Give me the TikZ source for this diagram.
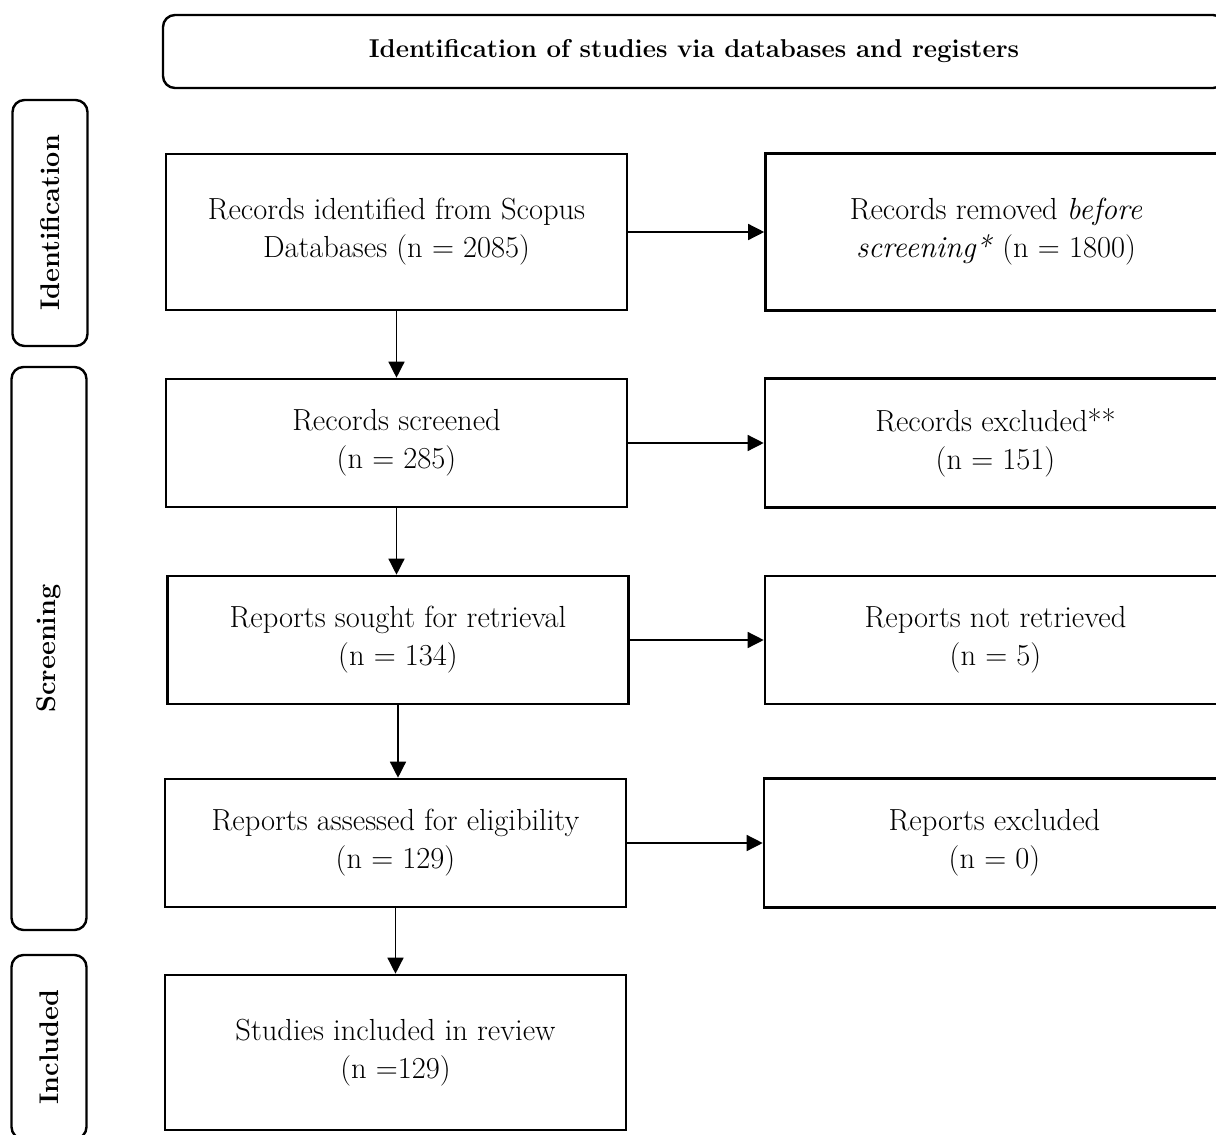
\documentclass[tikz,border=0pt]{standalone}
\usetikzlibrary{arrows.meta}
\begin{document}
\begin{tikzpicture}[x=1pt,y=-1pt,
  box/.style={draw,line width=2.6pt,minimum width=461pt,align=center,inner sep=0pt,
    font=\fontsize{30.5}{38}\selectfont},
  side/.style={draw,line width=2.4pt,rounded corners=12pt,rotate=90,inner sep=0pt,
    minimum height=75pt,font=\fontsize{27}{30}\selectfont\bfseries},
  arr/.style={line width=1.4pt,-{Triangle[length=16pt,width=16pt]}}
]
\useasboundingbox (0,0) rectangle (1216,1135);
\clip (0,0) rectangle (1216,1135);
% header
\node[draw,line width=2.4pt,rounded corners=12pt,minimum width=1062pt,minimum height=73pt,
  inner sep=0pt,font=\fontsize{25.8}{30}\selectfont\bfseries] (hdr) at (694,51.5)
  {Identification of studies via databases and registers};
% side labels
\node[side,minimum width=246pt] (sid) at (50,223) {Identification};
\node[side,minimum width=563pt] (sscr) at (49,648.5) {Screening};
\node[side,minimum width=184pt] (sinc) at (49,1047) {Included};
% main boxes
\node[box,minimum height=156pt] (b1) at (396.5,232) {Records identified from Scopus\\Databases (n = 2085)};
\node[box,minimum height=128pt] (b2) at (396.5,443) {Records screened\\(n = 285)};
\node[box,minimum height=128pt] (b3) at (398,640) {Reports sought for retrieval\\(n = 134)};
\node[box,minimum height=128pt] (b4) at (395.5,843) {Reports assessed for eligibility\\(n = 129)};
\node[box,minimum height=155pt] (b5) at (395.5,1052.5) {Studies included in review\\(n =129)};
% right boxes
\node[box,minimum height=157pt] (r1) at (996,232) {Records removed \textit{before}\\\textit{screening*} (n = 1800)};
\node[box,minimum height=129pt] (r2) at (995.5,443) {Records excluded**\\(n = 151)};
\node[box,minimum height=128pt] (r3) at (995.5,640) {Reports not retrieved\\(n = 5)};
\node[box,minimum height=129pt] (r4) at (994.5,843) {Reports excluded\\(n = 0)};
% connectors
\draw[arr] (b1.east) -- (r1.west);
\draw[arr] (b2.east) -- (r2.west);
\draw[arr] (b3.east) -- (r3.west);
\draw[arr] (b4.east) -- (r4.west);
\draw[arr] (b1.south) -- (b1.south |- b2.north);
\draw[arr] (b2.south) -- (b2.south |- b3.north);
\draw[arr] (b3.south) -- (b3.south |- b4.north);
\draw[arr] (b4.south) -- (b4.south |- b5.north);
\end{tikzpicture}
\end{document}
